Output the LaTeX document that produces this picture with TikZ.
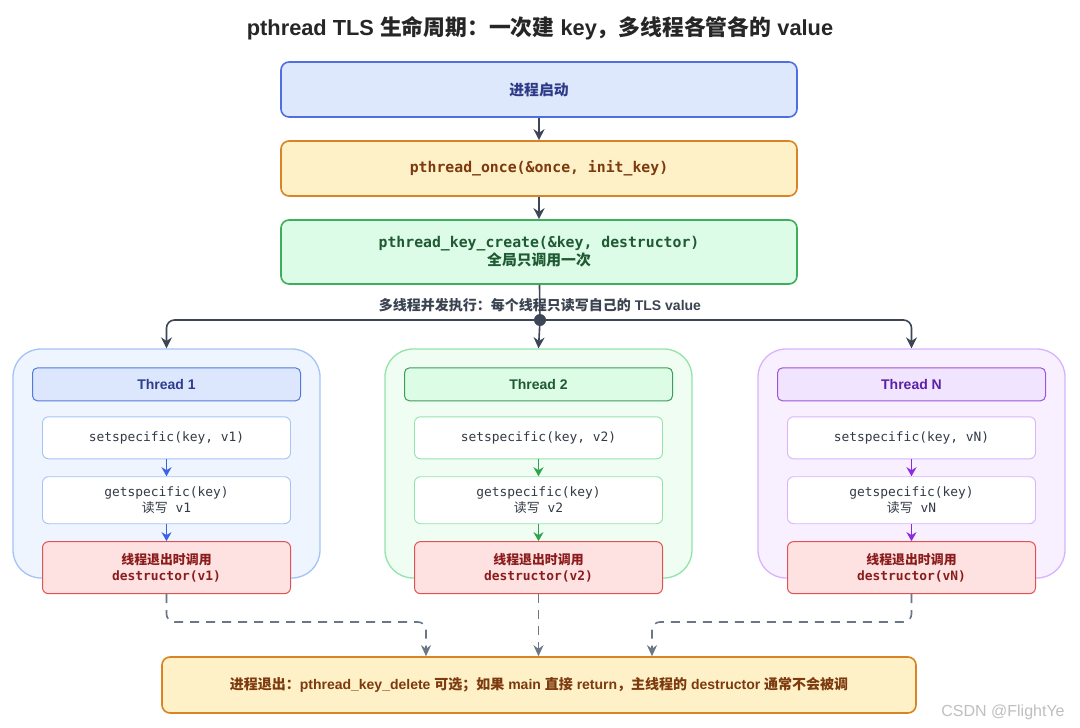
\documentclass[tikz,border=0pt]{standalone}
\usepackage{fontspec}
\setmainfont{Liberation Sans}
\setmonofont{DejaVu Sans Mono}
\newfontfamily\cjk{Noto Sans CJK SC}
\newcommand{\zh}[1]{{\cjk #1}}
\usetikzlibrary{arrows.meta,positioning}

\definecolor{flowc}{HTML}{3D4656}
\definecolor{dashc}{HTML}{6B7686}
\definecolor{startfill}{HTML}{DDE8FD}
\definecolor{startdraw}{HTML}{4F6FE0}
\definecolor{starttext}{HTML}{2E3A87}
\definecolor{oncefill}{HTML}{FEF0C7}
\definecolor{oncedraw}{HTML}{D98324}
\definecolor{oncetext}{HTML}{7C3A0E}
\definecolor{keyfill}{HTML}{DCFCE7}
\definecolor{keydraw}{HTML}{3FAE5C}
\definecolor{keytext}{HTML}{1F5A32}
\definecolor{bouter}{HTML}{EFF5FF}
\definecolor{bline}{HTML}{A5C3F7}
\definecolor{bhead}{HTML}{DCE7FD}
\definecolor{bdark}{HTML}{5678DC}
\definecolor{btext}{HTML}{2F3D8F}
\definecolor{barrow}{HTML}{3C63E6}
\definecolor{gouter}{HTML}{EFFDF3}
\definecolor{gline}{HTML}{94E3AB}
\definecolor{ghead}{HTML}{DCFCE6}
\definecolor{gdark}{HTML}{3F9C5A}
\definecolor{gtext}{HTML}{1F5A32}
\definecolor{garrow}{HTML}{2EA44F}
\definecolor{pouter}{HTML}{F8F0FF}
\definecolor{pline}{HTML}{D8B4FE}
\definecolor{phead}{HTML}{F1E4FE}
\definecolor{pdark}{HTML}{9A55D8}
\definecolor{ptext}{HTML}{5B21A6}
\definecolor{parrow}{HTML}{8B2BE2}
\definecolor{codetext}{HTML}{333A45}
\definecolor{dtorfill}{HTML}{FEE2E2}
\definecolor{dtordraw}{HTML}{E05252}
\definecolor{dtortext}{HTML}{8B1C1C}
\definecolor{midtext}{HTML}{3A4350}

\begin{document}
\begin{tikzpicture}
  [
   x=1pt,y=-1pt,
   node distance=22.4pt,
   title/.style={font=\fontsize{21.8}{26}\selectfont\bfseries,text=black!85},
   box/.style={rectangle,rounded corners=8pt,line width=1.6pt,minimum width=516pt,align=center,font=\fontsize{14.8}{18}\selectfont\bfseries},
   startn/.style={box,fill=startfill,draw=startdraw,text=starttext,minimum height=55pt},
   oncen/.style={box,fill=oncefill,draw=oncedraw,text=oncetext,minimum height=55pt},
   keyn/.style={box,fill=keyfill,draw=keydraw,text=keytext,minimum height=64pt},
   exitn/.style={box,fill=oncefill,draw=oncedraw,text=oncetext,minimum width=754pt,minimum height=56pt,font=\fontsize{14}{17}\selectfont\bfseries},
   flow/.style={draw=flowc,line width=1.6pt,rounded corners=8pt,-{Stealth[length=11pt,width=11pt]}},
   dashflow/.style={draw=dashc,line width=1.6pt,dash pattern=on 9pt off 7pt,rounded corners=8pt,-{Stealth[length=11pt,width=10pt]}},
   thr/.style={rectangle,rounded corners=28pt,line width=1.3pt,minimum width=307pt,minimum height=229pt},
   hd/.style={rectangle,rounded corners=5pt,line width=1pt,minimum width=268pt,minimum height=33pt,font=\fontsize{14}{17}\selectfont\bfseries},
   stepn/.style={rectangle,rounded corners=6pt,fill=white,line width=0.9pt,minimum width=248pt,align=center,text=codetext,font=\fontsize{12.9}{16}\selectfont\ttfamily},
   dtor/.style={rectangle,rounded corners=6pt,fill=dtorfill,draw=dtordraw,line width=1pt,minimum width=248pt,minimum height=52pt,align=center,text=dtortext,font=\fontsize{12.9}{16}\selectfont\bfseries},
   bthr/.style={thr,fill=bouter,draw=bline},
   gthr/.style={thr,fill=gouter,draw=gline},
   pthr/.style={thr,fill=pouter,draw=pline},
   bhd/.style={hd,fill=bhead,draw=bdark,text=btext},
   ghd/.style={hd,fill=ghead,draw=gdark,text=gtext},
   phd/.style={hd,fill=phead,draw=pdark,text=ptext},
   barr/.style={draw=barrow,line width=1.5pt,-{Stealth[length=9pt,width=10pt]}},
   garr/.style={draw=garrow,line width=1.5pt,-{Stealth[length=9pt,width=10pt]}},
   parr/.style={draw=parrow,line width=1.5pt,-{Stealth[length=9pt,width=10pt]}}
  ]
   \path[use as bounding box,fill=white] (0,0) rectangle (1080,728);

   \node[title] (ttl) at (540,28) {pthread TLS \zh{生命周期：一次建} key\zh{，多线程各管各的} value};

   \node[startn] (start) at (539,89.5) {\zh{进程启动}};
   \node[oncen] (once) [below=of start] {\ttfamily pthread\_once(\&once, init\_key)};
   \node[keyn] (key) [below=of once] {{\ttfamily pthread\_key\_create(\&key, destructor)}\\\zh{全局只调用一次}};

   % threads
   \node[bthr] (t1) at (166.5,463.5) {};
   \node[gthr] (t2) at (538.5,463.5) {};
   \node[pthr] (tn) at (911.5,463.5) {};

   \node[bhd] (h1) [below=19pt of t1.north] {Thread 1};
   \node[stepn,draw=bline,minimum height=42pt] (s1) [below=15pt of h1] {setspecific(key, v1)};
   \node[stepn,draw=bline,minimum height=47pt] (g1) [below=17pt of s1] {getspecific(key)\\\zh{读写} v1};
   \node[dtor] (d1) [below=17pt of g1] {\zh{线程退出时调用}\\{\ttfamily destructor(v1)}};

   \node[ghd] (h2) [below=19pt of t2.north] {Thread 2};
   \node[stepn,draw=gline,minimum height=42pt] (s2) [below=15pt of h2] {setspecific(key, v2)};
   \node[stepn,draw=gline,minimum height=47pt] (g2) [below=17pt of s2] {getspecific(key)\\\zh{读写} v2};
   \node[dtor] (d2) [below=17pt of g2] {\zh{线程退出时调用}\\{\ttfamily destructor(v2)}};

   \node[phd] (hn) [below=19pt of tn.north] {Thread N};
   \node[stepn,draw=pline,minimum height=42pt] (sn) [below=15pt of hn] {setspecific(key, vN)};
   \node[stepn,draw=pline,minimum height=47pt] (gn) [below=17pt of sn] {getspecific(key)\\\zh{读写} vN};
   \node[dtor] (dn) [below=17pt of gn] {\zh{线程退出时调用}\\{\ttfamily destructor(vN)}};

   \node[exitn] (exit) at (539,685) {\zh{进程退出：}pthread\_key\_delete \zh{可选；如果} main \zh{直接} return\zh{，主线程的} destructor \zh{通常不会被调}};

   \coordinate (fork) at (540,320);
   \coordinate (m1) at (426,622);
   \coordinate (mn) at (652,622);

   \draw[flow] (start) -- (once);
   \draw[flow] (once) -- (key);
   \draw[flow,-] (key) -- (fork);
   \draw[flow] (fork) -| (t1.north);
   \draw[flow] (fork) -- (t2.north);
   \draw[flow] (fork) -| (tn.north);
   \fill[flowc] (fork) circle (6pt);

   \node[font=\fontsize{14}{17}\selectfont\bfseries,text=midtext] (mid) at (540,305) {\zh{多线程并发执行：每个线程只读写自己的} TLS value};

   \draw[barr] (s1) -- (g1);
   \draw[barr] (g1) -- (d1);
   \draw[garr] (s2) -- (g2);
   \draw[garr] (g2) -- (d2);
   \draw[parr] (sn) -- (gn);
   \draw[parr] (gn) -- (dn);

   \draw[dashflow] (d1.south) |- (m1) -- (m1 |- exit.north);
   \draw[dashflow] (d2.south) -- (d2.south |- exit.north);
   \draw[dashflow] (dn.south) |- (mn) -- (mn |- exit.north);

   \node[font=\fontsize{16}{19}\selectfont,text=black!25] (mark) at (1003,712) {CSDN @FlightYe};

\end{tikzpicture}
\end{document}
